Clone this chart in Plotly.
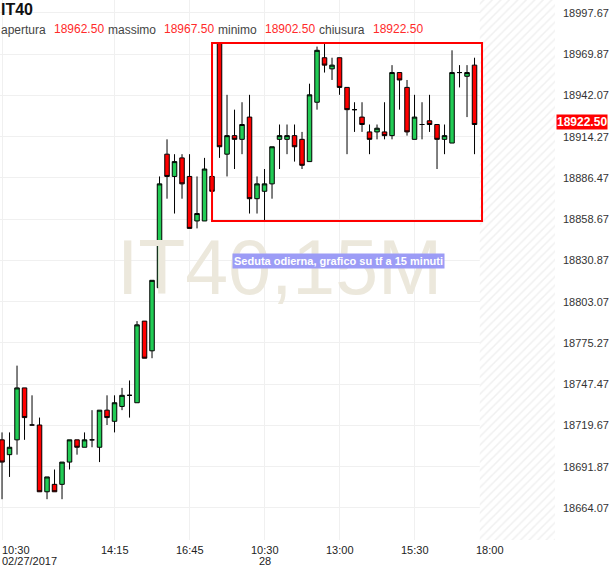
import plotly.graph_objects as go

# ---- data ----
times = ["10:30", "10:45", "11:00", "11:15", "11:30", "11:45", "12:00", "12:15", "12:30", "12:45",
         "13:00", "13:15", "13:30", "13:45", "14:00", "14:15", "14:30", "14:45", "15:00", "15:15",
         "15:30", "15:45", "16:00", "16:15", "16:30", "16:45", "17:00", "17:15", "17:30",
         "09:00", "09:15", "09:30", "09:45", "10:00", "10:15", "10:30", "10:45", "11:00", "11:15",
         "11:30", "11:45", "12:00", "12:15", "12:30", "12:45", "13:00", "13:15", "13:30", "13:45",
         "14:00", "14:15", "14:30", "14:45", "15:00", "15:15", "15:30", "15:45", "16:00", "16:15",
         "16:30", "16:45", "17:00", "17:15", "17:30"]

opens = [18710, 18700, 18710, 18745, 18720, 18720, 18675, 18680, 18680, 18695,
         18710, 18705, 18710, 18705, 18730, 18722.5, 18732.5, 18740, 18735, 18790,
         18770, 18812.5, 18902.5, 18887.5, 18900, 18887.5, 18857.5, 18857.5, 18887.5,
         18977.5, 18902.5, 18915, 18912.5, 18927.5, 18872.5, 18877.5, 18882.5, 18912.5, 18912.5,
         18915, 18912.5, 18897.5, 18937.5, 18967.5, 18960, 18967.5, 18947.5, 18932.5, 18927.5,
         18917.5, 18917.5, 18917.5, 18915, 18957.5, 18947.5, 18912.5, 18922.5, 18925, 18922.5,
         18912.5, 18910, 18957.5, 18955, 18962.5]
highs = [18715, 18715, 18760, 18745, 18740, 18725, 18685, 18690, 18695, 18710,
         18710, 18715, 18730, 18730, 18740, 18740, 18745, 18750, 18790, 18790,
         18817.5, 18887.5, 18912.5, 18902.5, 18902.5, 18902.5, 18887.5, 18900, 18887.5,
         18977.5, 18942.5, 18932.5, 18937.5, 18942.5, 18887.5, 18892.5, 18907.5, 18922.5, 18922.5,
         18922.5, 18917.5, 18950, 18975, 18977.5, 18967.5, 18967.5, 18947.5, 18937.5, 18937.5,
         18922.5, 18922.5, 18937.5, 18962.5, 18957.5, 18952.5, 18942.5, 18937.5, 18942.5, 18922.5,
         18922.5, 18972.5, 18962.5, 18962.5, 18967.5]
lows = [18670, 18685, 18700, 18710, 18720, 18675, 18670, 18675, 18670, 18690,
        18700, 18705, 18705, 18695, 18720, 18715, 18730, 18725, 18735, 18765,
        18765, 18812.5, 18872.5, 18862.5, 18872.5, 18852.5, 18852.5, 18857.5, 18877.5,
        18900, 18887.5, 18892.5, 18902.5, 18862.5, 18862.5, 18857.5, 18872.5, 18892.5, 18902.5,
        18897.5, 18892.5, 18897.5, 18932.5, 18957.5, 18952.5, 18942.5, 18902.5, 18917.5, 18917.5,
        18902.5, 18912.5, 18912.5, 18912.5, 18932.5, 18915, 18912.5, 18912.5, 18917.5, 18892.5,
        18902.5, 18910, 18947.5, 18927.5, 18902.5]
closes = [18695, 18705, 18745, 18725, 18720, 18675, 18685, 18675, 18695, 18710,
          18705, 18710, 18710, 18730, 18725, 18735, 18740, 18740, 18787.5, 18765,
          18817.5, 18882.5, 18887.5, 18897.5, 18882.5, 18852.5, 18862.5, 18892.5, 18877.5,
          18907.5, 18915, 18912.5, 18922.5, 18872.5, 18882.5, 18882.5, 18907.5, 18915, 18915,
          18907.5, 18895, 18942.5, 18972.5, 18962.5, 18962.5, 18947.5, 18932.5, 18932.5, 18922.5,
          18912.5, 18920, 18915, 18957.5, 18952.5, 18917.5, 18927.5, 18922.5, 18922.5, 18912.5,
          18915, 18957.5, 18957.5, 18957.5, 18922.5]

x_tick_idx = [0, 15, 25, 35, 45, 55, 65]
x_tick_text = ["10:30", "14:15", "16:45", "10:30", "13:00", "15:30", "18:00"]
date_labels = [(0, "02/27/2017"), (35, "28")]

y_ticks = [18664.07, 18691.87, 18719.67, 18747.47, 18775.27, 18803.07, 18830.87,
           18858.67, 18886.47, 18914.27, 18942.07, 18969.87, 18997.67]

header_labels = ["apertura", "massimo", "minimo", "chiusura"]
header_values = [opens[-1], highs[-1], lows[-1], closes[-1]]

box_hi, box_lo = 18977.5, 18857.5   # session range box
session_start, session_end = 28, 64

# ---- layout geometry ----
W, H = 610, 568
ML, MR, MT, MB = 0, 55, 0, 28
PW, PH = W - ML - MR, H - MT - MB
y_range = [18642.5, 19006.4]
x_range = [-0.27, 73.73]
FONT = "Liberation Sans, Arial"

def px(xp):
    return xp / PW

def py(yp):
    return 1 - yp / PH

xs = list(range(len(times)))

fig = go.Figure()

# watermark (below candles)
fig.add_trace(go.Scatter(
    x=[37], y=[18821], mode="text", text=["IT40,15M"],
    textfont=dict(size=77, color="#ece8dc", family=FONT),
    hoverinfo="skip", showlegend=False, cliponaxis=False))

# hatched future area
fig.add_trace(go.Scatter(
    x=[63.7, 74, 74, 63.7, 63.7], y=[y_range[0], y_range[0], y_range[1], y_range[1], y_range[0]],
    mode="lines", fill="toself", line=dict(width=0, color="rgba(0,0,0,0)"),
    fillcolor="white",
    fillpattern=dict(shape="/", fgcolor="#e2e2e2", bgcolor="white", size=6, solidity=0.25),
    hoverinfo="skip", showlegend=False))

fig.add_trace(go.Candlestick(
    x=xs, open=opens, high=highs, low=lows, close=closes,
    increasing=dict(fillcolor="#22cc55", line=dict(color="black", width=1)),
    decreasing=dict(fillcolor="#ff0000", line=dict(color="black", width=1)),
    whiskerwidth=0, showlegend=False))

annotations = []
# header
annotations.append(dict(text="<b>IT40</b>", x=px(-1), y=py(9.5), xref="paper", yref="paper",
                        xanchor="left", yanchor="middle", showarrow=False,
                        font=dict(size=16, color="#111", family=FONT)))
label_x = [0, 107, 217, 318]
value_x = [53, 163, 264, 372]
for lab, val, lx, vx in zip(header_labels, header_values, label_x, value_x):
    annotations.append(dict(text=lab, x=px(lx - 1), y=py(30.5), xref="paper", yref="paper",
                            xanchor="left", yanchor="middle", showarrow=False,
                            font=dict(size=12, color="#444", family=FONT)))
    annotations.append(dict(text=f"{val:.2f}", x=px(vx - 1), y=py(28.5), xref="paper", yref="paper",
                            xanchor="left", yanchor="middle", showarrow=False,
                            font=dict(size=12, color="#ff2a2a", family=FONT)))

# comment label
annotations.append(dict(text="<b>Seduta odierna, grafico su tf a 15 minuti</b>",
                        x=px(338), y=py(260.5), xref="paper", yref="paper",
                        xanchor="center", yanchor="middle", showarrow=False,
                        bgcolor="#9c9cf6", borderpad=1,
                        font=dict(size=11, color="white", family=FONT)))

# x labels
for i, (idx, t) in enumerate(zip(x_tick_idx, x_tick_text)):
    annotations.append(dict(text=t, x=idx if i > 0 else x_range[0], y=0, xref="x", yref="paper",
                            xanchor="center" if i > 0 else "left", yanchor="middle",
                            yshift=-10, showarrow=False,
                            font=dict(size=11, color="#222", family=FONT)))
for idx, t in date_labels:
    annotations.append(dict(text=t, x=idx if idx > 0 else x_range[0], y=0, xref="x", yref="paper",
                            xanchor="center" if idx > 0 else "left", yanchor="middle",
                            yshift=-21, showarrow=False,
                            font=dict(size=11, color="#222", family=FONT)))

# last price tag
annotations.append(dict(text=f"<b>{closes[-1]:.2f}</b>", x=1, y=closes[-1], xref="paper", yref="y",
                        xanchor="left", yanchor="middle", xshift=1, yshift=3, showarrow=False,
                        bgcolor="#ff0000", borderpad=0,
                        font=dict(size=12, color="white", family=FONT)))

shapes = [dict(type="rect", xref="x", yref="y", x0=session_start, x1=session_end,
               y0=box_lo, y1=box_hi, line=dict(color="#ff0000", width=2), layer="above")]

fig.update_layout(
    width=W, height=H, margin=dict(l=ML, r=MR, t=MT, b=MB),
    paper_bgcolor="white", plot_bgcolor="white",
    annotations=annotations, shapes=shapes,
    boxgap=0.2, boxgroupgap=0.25,
    xaxis=dict(range=x_range, tickvals=x_tick_idx, showticklabels=False,
               showgrid=True, gridcolor="#f0f0f0", gridwidth=1, zeroline=False,
               rangeslider=dict(visible=False), fixedrange=True),
    yaxis=dict(range=y_range, side="right", tickvals=y_ticks,
               ticktext=[f"{v:.2f}" for v in y_ticks], showgrid=True, gridcolor="#f0f0f0",
               zeroline=False, ticks="", ticklabelstandoff=7, automargin=False,
               tickfont=dict(size=11, color="#333", family=FONT)),
    showlegend=False,
)

fig.write_html("out.html", config={"displayModeBar": False},
               post_script="document.body.style.margin='0';document.body.style.overflow='hidden';")
